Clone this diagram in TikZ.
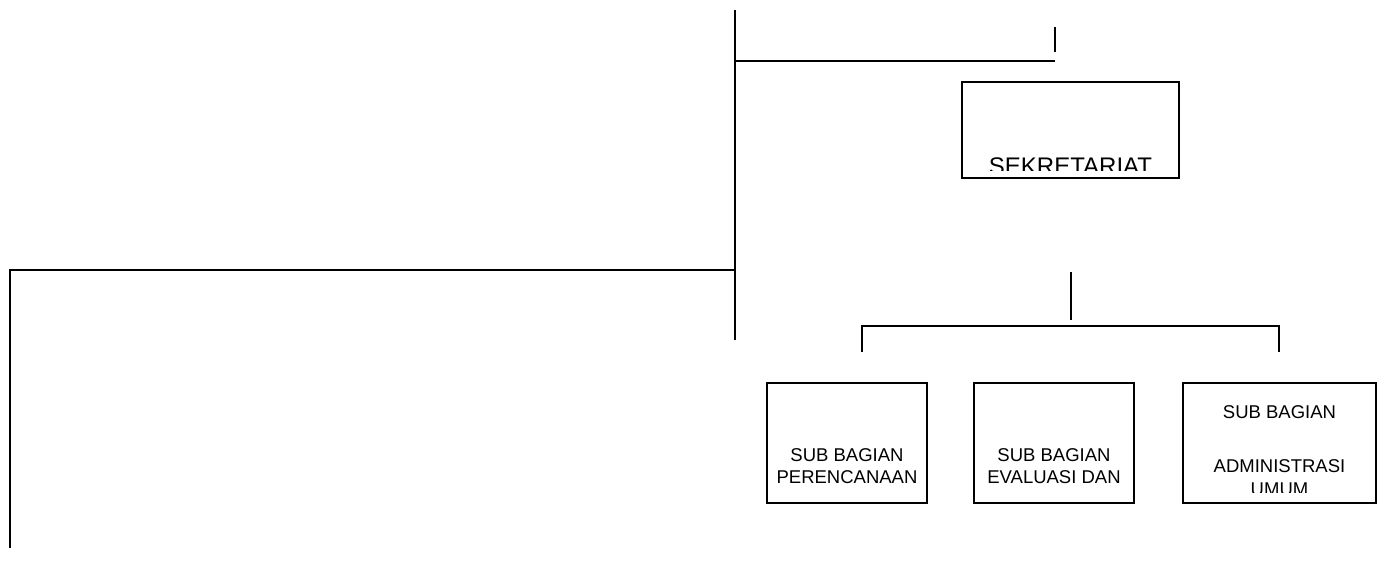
\documentclass[tikz,border=0pt]{standalone}
\usepackage{fontspec}
\setmainfont{Liberation Sans}
\begin{document}
\begin{tikzpicture}[x=1pt,y=-1pt,
  ln/.style={line width=1.6pt,black},
  orgbox/.style={draw,line width=1.6pt,minimum width=#1,minimum height=120pt,inner sep=0pt},
  lbl/.style={font=\fontsize{18.5}{22}\selectfont,anchor=base,inner sep=0pt}]
\useasboundingbox (0,0) rectangle (1381,560);
% main trunk
\coordinate (vtop) at (735,10);
\coordinate (vbot) at (735,340);
\coordinate (hA) at (735,61);
\coordinate (hB) at (1055,61);
\coordinate (sA) at (1055,27);
\coordinate (sB) at (1055,52);
\coordinate (lA) at (735,270);
\coordinate (lB) at (10,270);
\coordinate (lC) at (10,548);
\draw[ln] (vtop) -- (vbot);
\draw[ln] (hA) -- (hB);
\draw[ln] (sA) -- (sB);
\draw[ln] (lA) -- (lB) -- (lC);
% sekretariat
\node[draw,line width=1.6pt,minimum width=217pt,minimum height=96pt,inner sep=0pt] (sek) at (1070.5,130) {};
\begin{scope}
\clip (964,84) rectangle (1177,170.5);
\node[font=\fontsize{24}{28}\selectfont,anchor=base,inner sep=0pt] (sektxt) at (1070.5,174) {SEKRETARIAT};
\end{scope}
% branch to sub bagian
\coordinate (mA) at (1071,272);
\coordinate (mB) at (1071,320);
\coordinate (bL) at (862,326);
\coordinate (bR) at (1279,326);
\coordinate (dL) at (862,352);
\coordinate (dR) at (1279,352);
\draw[ln] (mA) -- (mB);
\draw[ln] (dL) -- (bL) -- (bR) -- (dR);
% boxes
\node[orgbox=160pt] (b1) at (847,443) {};
\node[orgbox=160pt] (b2) at (1054,443) {};
\node[orgbox=193pt] (b3) at (1279.5,443) {};
\node[lbl] (b1a) at (847,461) {SUB BAGIAN};
\node[lbl] (b1b) at (847,483) {PERENCANAAN};
\node[lbl] (b2a) at (1054,461) {SUB BAGIAN};
\node[lbl] (b2b) at (1054,483) {EVALUASI DAN};
\node[lbl] (b3a) at (1279.5,418) {SUB BAGIAN};
\node[lbl] (b3b) at (1279.5,472) {ADMINISTRASI};
\begin{scope}
\clip (1185,385) rectangle (1374,492);
\node[lbl] (b3c) at (1279.5,495) {UMUM};
\end{scope}
\end{tikzpicture}
\end{document}
